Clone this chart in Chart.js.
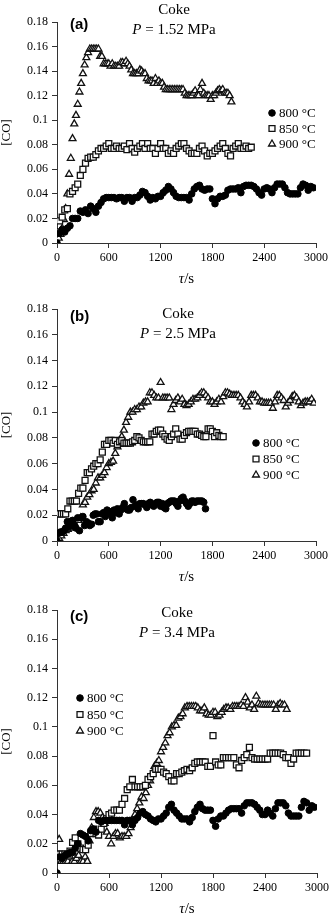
<!DOCTYPE html>
<html>
<head>
<meta charset="utf-8">
<script src="https://cdn.jsdelivr.net/npm/chart.js@4.4.1/dist/chart.umd.min.js"></script>
<style>
  html, body { margin: 0; padding: 0; background: #fff; }
  body { width: 332px; height: 919px; position: relative; overflow: hidden; }
  canvas { position: absolute; left: 0; }
</style>
</head>
<body>
<canvas id="panelA" style="top:0px" width="332" height="289"></canvas>
<canvas id="panelB" style="top:289px" width="332" height="298"></canvas>
<canvas id="panelC" style="top:587px" width="332" height="332"></canvas>
<script>
// legend labels and axis ticks
const temps = ['800 °C', '850 °C', '900 °C'];
const xTickValues = [0, 600, 1200, 1800, 2400, 3000];
const yTickValues = [0, 0.02, 0.04, 0.06, 0.08, 0.1, 0.12, 0.14, 0.16, 0.18];
const pressures = ['1.52', '2.5', '3.4'];
const panelLetters = ['(a)', '(b)', '(c)'];

// sampling interval (s) of each logged series
const stepA800 = 30, stepA850 = 30, stepA900 = 20;
const stepB800 = 20, stepB850 = 25, stepB900 = 25;
const stepC800 = 30, stepC850 = 30, stepC900 = 25;

// (a) P = 1.52 MPa
const coA800 = [0, 0.008, 0.011, 0.009, 0.012, 0.014, 0.02, 0.02, 0.02, 0.026,
  0.025, 0.027, 0.024, 0.03, 0.028, 0.025, 0.03, 0.033, 0.036, 0.037,
  0.037, 0.037, 0.037, 0.036, 0.037, 0.037, 0.034, 0.037, 0.037, 0.034,
  0.037, 0.037, 0.039, 0.042, 0.041, 0.038, 0.035, 0.037, 0.036, 0.038,
  0.038, 0.041, 0.043, 0.046, 0.044, 0.041, 0.038, 0.037, 0.037, 0.037,
  0.037, 0.035, 0.04, 0.044, 0.046, 0.047, 0.044, 0.043, 0.044, 0.044,
  0.036, 0.032, 0.036, 0.038, 0.038, 0.039, 0.043, 0.044, 0.044, 0.044,
  0.045, 0.041, 0.046, 0.047, 0.047, 0.047, 0.046, 0.044, 0.041, 0.039,
  0.044, 0.045, 0.044, 0.041, 0.045, 0.048, 0.048, 0.048, 0.045, 0.041,
  0.040, 0.040, 0.040, 0.040, 0.045, 0.048, 0.047, 0.043, 0.046, 0.045];
const coA850 = [0.009, 0.018, 0.021, 0.027, 0.028, 0.04, 0.042, 0.045, 0.048, 0.055,
  0.06, 0.065, 0.069, 0.070, 0.070, 0.072, 0.075, 0.077, 0.077, 0.079,
  0.081, 0.077, 0.077, 0.079, 0.077, 0.077, 0.079, 0.076, 0.081, 0.077,
  0.074, 0.077, 0.079, 0.081, 0.077, 0.081, 0.077, 0.077, 0.073, 0.077,
  0.081, 0.077, 0.077, 0.073, 0.075, 0.073, 0.077, 0.079, 0.081, 0.081,
  0.077, 0.075, 0.073, 0.073, 0.073, 0.077, 0.079, 0.075, 0.071, 0.073,
  0.073, 0.075, 0.077, 0.079, 0.081, 0.077, 0.073, 0.071, 0.077, 0.079,
  0.081, 0.077, 0.077, 0.079, 0.077, 0.078];
const coA900 = [0, 0.004, 0.007, 0.012, 0.019, 0.028, 0.04, 0.056, 0.069, 0.085,
  0.097, 0.104, 0.113, 0.123, 0.13, 0.138, 0.145, 0.151, 0.155, 0.158,
  0.158, 0.158, 0.158, 0.158, 0.158, 0.152, 0.152, 0.146, 0.146, 0.146,
  0.146, 0.144, 0.146, 0.144, 0.144, 0.144, 0.144, 0.147, 0.147, 0.146,
  0.148, 0.146, 0.144, 0.141, 0.138, 0.138, 0.138, 0.138, 0.141, 0.14,
  0.138, 0.138, 0.134, 0.132, 0.132, 0.132, 0.13, 0.134, 0.13, 0.132,
  0.13, 0.13, 0.127, 0.125, 0.125, 0.125, 0.125, 0.125, 0.125, 0.125,
  0.125, 0.125, 0.125, 0.125, 0.122, 0.12, 0.12, 0.12, 0.12, 0.122,
  0.124, 0.12, 0.12, 0.125, 0.13, 0.122, 0.12, 0.12, 0.12, 0.117,
  0.12, 0.12, 0.122, 0.124, 0.125, 0.124, 0.125, 0.122, 0.122, 0.122,
  0.12, 0.115];

// (b) P = 2.5 MPa
const coB800 = [0, 0.006, 0.007, 0.007, 0.008, 0.01, 0.015, 0.011, 0.015, 0.016,
  0.012, 0.01, 0.018, 0.008, 0.018, 0.019, 0.012, 0.015, 0.014, 0.012,
  0.013, 0.02, 0.021, 0.021, 0.015, 0.015, 0.021, 0.022, 0.019, 0.024,
  0.023, 0.021, 0.018, 0.024, 0.022, 0.025, 0.021, 0.024, 0.026, 0.029,
  0.025, 0.024, 0.024, 0.026, 0.032, 0.027, 0.028, 0.025, 0.029, 0.029,
  0.029, 0.028, 0.026, 0.029, 0.03, 0.028, 0.027, 0.029, 0.03, 0.03,
  0.027, 0.029, 0.026, 0.025, 0.029, 0.03, 0.031, 0.031, 0.031, 0.029,
  0.027, 0.031, 0.033, 0.034, 0.031, 0.029, 0.027, 0.029, 0.031, 0.031,
  0.03, 0.031, 0.031, 0.031, 0.031, 0.03, 0.025];
const coB850 = [0.021, 0.021, 0.021, 0.021, 0.021, 0.025, 0.031, 0.031, 0.031, 0.031,
  0.037, 0.041, 0.041, 0.047, 0.053, 0.053, 0.056, 0.058, 0.06, 0.06,
  0.063, 0.069, 0.075, 0.075, 0.078, 0.078, 0.076, 0.078, 0.075, 0.077,
  0.078, 0.076, 0.076, 0.076, 0.076, 0.077, 0.078, 0.081, 0.08, 0.078,
  0.077, 0.077, 0.077, 0.077, 0.083, 0.083, 0.085, 0.086, 0.086, 0.083,
  0.081, 0.079, 0.078, 0.081, 0.083, 0.087, 0.083, 0.079, 0.079, 0.082,
  0.084, 0.085, 0.085, 0.085, 0.085, 0.083, 0.083, 0.082, 0.081, 0.081,
  0.087, 0.087, 0.085, 0.081, 0.084, 0.082, 0.081, 0.081];
const coB900 = [0, 0.002, 0.004, 0.006, 0.008, 0.009, 0.01, 0.012, 0.014, 0.016,
  0.016, 0.018, 0.028, 0.03, 0.034, 0.036, 0.039, 0.04, 0.045, 0.049,
  0.049, 0.051, 0.053, 0.057, 0.06, 0.061, 0.062, 0.068, 0.073, 0.075,
  0.081, 0.086, 0.092, 0.096, 0.1, 0.1, 0.102, 0.102, 0.104, 0.104,
  0.107, 0.108, 0.108, 0.115, 0.115, 0.113, 0.111, 0.111, 0.123, 0.111,
  0.111, 0.111, 0.111, 0.102, 0.106, 0.109, 0.111, 0.108, 0.11, 0.106,
  0.105, 0.106, 0.108, 0.11, 0.11, 0.111, 0.113, 0.115, 0.115, 0.113,
  0.111, 0.108, 0.108, 0.106, 0.108, 0.11, 0.108, 0.112, 0.115, 0.115,
  0.114, 0.113, 0.113, 0.113, 0.113, 0.111, 0.108, 0.106, 0.104, 0.108,
  0.113, 0.113, 0.113, 0.111, 0.108, 0.108, 0.107, 0.107, 0.107, 0.107,
  0.103, 0.108, 0.113, 0.113, 0.111, 0.109, 0.104, 0.107, 0.109, 0.112,
  0.113, 0.111, 0.108, 0.105, 0.107, 0.108, 0.108, 0.108, 0.11, 0.107];

// (c) P = 3.4 MPa
const coC800 = [0, 0.011, 0.01, 0.012, 0.013, 0.014, 0.014, 0.017, 0.02, 0.027,
  0.026, 0.025, 0.022, 0.029, 0.03, 0.028, 0.036, 0.035, 0.036, 0.036,
  0.036, 0.036, 0.036, 0.036, 0.036, 0.036, 0.033, 0.036, 0.036, 0.033,
  0.036, 0.038, 0.041, 0.042, 0.04, 0.039, 0.037, 0.036, 0.035, 0.037,
  0.037, 0.039, 0.041, 0.045, 0.047, 0.043, 0.041, 0.039, 0.037, 0.037,
  0.037, 0.035, 0.038, 0.042, 0.045, 0.047, 0.044, 0.043, 0.043, 0.043,
  0.036, 0.032, 0.037, 0.039, 0.039, 0.041, 0.043, 0.044, 0.044, 0.044,
  0.044, 0.041, 0.046, 0.048, 0.048, 0.048, 0.047, 0.045, 0.043, 0.04,
  0.04, 0.043, 0.041, 0.039, 0.044, 0.048, 0.048, 0.048, 0.046, 0.041,
  0.039, 0.039, 0.039, 0.039, 0.045, 0.049, 0.048, 0.043, 0.046, 0.045];
const coC850 = [0.013, 0.013, 0.013, 0.013, 0.013, 0.015, 0.021, 0.024, 0.02, 0.017,
  0.016, 0.016, 0.019, 0.027, 0.03, 0.027, 0.026, 0.03, 0.034, 0.037,
  0.04, 0.041, 0.043, 0.043, 0.043, 0.047, 0.051, 0.057, 0.059, 0.064,
  0.059, 0.059, 0.059, 0.059, 0.06, 0.064, 0.066, 0.068, 0.071, 0.071,
  0.071, 0.069, 0.068, 0.066, 0.063, 0.063, 0.068, 0.068, 0.069, 0.07,
  0.071, 0.07, 0.072, 0.075, 0.076, 0.076, 0.076, 0.076, 0.073, 0.073,
  0.094, 0.076, 0.074, 0.074, 0.079, 0.079, 0.079, 0.079, 0.079, 0.074,
  0.072, 0.077, 0.079, 0.081, 0.086, 0.079, 0.078, 0.078, 0.078, 0.078,
  0.078, 0.078, 0.082, 0.082, 0.082, 0.082, 0.082, 0.081, 0.079, 0.079,
  0.075, 0.078, 0.082, 0.082, 0.082, 0.082, 0.082];
const coC900 = [0, 0.023, 0.008, 0.008, 0.008, 0.008, 0.011, 0.008, 0.008, 0.01,
  0.012, 0.008, 0.008, 0.011, 0.008, 0.022, 0.031, 0.038, 0.042, 0.042,
  0.041, 0.038, 0.034, 0.028, 0.025, 0.02, 0.025, 0.027, 0.027, 0.024,
  0.025, 0.025, 0.025, 0.027, 0.031, 0.036, 0.04, 0.044, 0.048, 0.052,
  0.051, 0.055, 0.06, 0.063, 0.068, 0.073, 0.075, 0.077, 0.083, 0.086,
  0.089, 0.094, 0.096, 0.1, 0.101, 0.101, 0.106, 0.107, 0.109, 0.113,
  0.114, 0.114, 0.114, 0.114, 0.114, 0.113, 0.111, 0.111, 0.113, 0.109,
  0.108, 0.108, 0.11, 0.11, 0.107, 0.108, 0.11, 0.112, 0.113, 0.113,
  0.112, 0.114, 0.114, 0.114, 0.114, 0.115, 0.114, 0.12, 0.117, 0.113,
  0.115, 0.112, 0.121, 0.116, 0.115, 0.115, 0.115, 0.115, 0.115, 0.115,
  0.115, 0.112, 0.115, 0.116, 0.115, 0.115, 0.112];

function toPoints(values, step) {
  return values.map((v, i) => ({ x: i * step, y: v }));
}

const markerStyles = [
  { pointStyle: 'circle', pointRadius: 3.3, backgroundColor: '#000', borderColor: '#000', borderWidth: 1 },
  { pointStyle: 'rect', pointRadius: 4.2, backgroundColor: '#fff', borderColor: '#111', borderWidth: 1.3 },
  { pointStyle: 'triangle', pointRadius: 4, backgroundColor: '#fff', borderColor: '#111', borderWidth: 1.3 }
];

const serif = '"Liberation Serif", "Times New Roman", serif';

function drawMarker(ctx, style, x, y) {
  const r = style.pointRadius;
  ctx.beginPath();
  if (style.pointStyle === 'circle') {
    ctx.arc(x, y, r, 0, Math.PI * 2);
  } else if (style.pointStyle === 'rect') {
    const s = Math.SQRT1_2 * r;
    ctx.rect(x - s, y - s, 2 * s, 2 * s);
  } else {
    let rad = 0;
    ctx.moveTo(x + Math.sin(rad) * r, y - Math.cos(rad) * r);
    rad += Math.PI * 2 / 3;
    ctx.lineTo(x + Math.sin(rad) * r, y - Math.cos(rad) * r);
    rad += Math.PI * 2 / 3;
    ctx.lineTo(x + Math.sin(rad) * r, y - Math.cos(rad) * r);
    ctx.closePath();
  }
  ctx.fillStyle = style.backgroundColor;
  ctx.fill();
  ctx.lineWidth = style.borderWidth;
  ctx.strokeStyle = style.borderColor;
  ctx.stroke();
}

// panel letter, title, legend and x-axis label
const panelText = {
  id: 'panelText',
  afterDraw(chart, args, o) {
    const ctx = chart.ctx;
    const a = chart.chartArea;
    ctx.save();
    ctx.fillStyle = '#000';
    ctx.textBaseline = 'middle';

    ctx.font = 'bold 15px "Liberation Sans", Arial, sans-serif';
    ctx.textAlign = 'left';
    ctx.fillText(o.letter, 70, a.top + o.letterDy);

    ctx.font = '15px ' + serif;
    ctx.textAlign = 'center';
    ctx.fillText('Coke', o.titleX, a.top + o.titleDy);

    // "P = x MPa" with italic P
    const rest = ' = ' + o.pressure + ' MPa';
    ctx.font = 'italic 15px ' + serif;
    const wP = ctx.measureText('P').width;
    ctx.font = '15px ' + serif;
    const wR = ctx.measureText(rest).width;
    let x0 = o.titleX - (wP + wR) / 2;
    ctx.textAlign = 'left';
    ctx.font = 'italic 15px ' + serif;
    ctx.fillText('P', x0, a.top + o.titleDy + 20);
    ctx.font = '15px ' + serif;
    ctx.fillText(rest, x0 + wP, a.top + o.titleDy + 20);

    // x-axis label "τ/s"
    const cx = (a.left + a.right) / 2;
    ctx.font = 'italic 15px ' + serif;
    const wT = ctx.measureText('\u03c4').width;
    ctx.font = '15px ' + serif;
    const wS = ctx.measureText('/s').width;
    x0 = cx - (wT + wS) / 2;
    ctx.font = 'italic 15px ' + serif;
    ctx.fillText('\u03c4', x0, a.bottom + 36);
    ctx.font = '15px ' + serif;
    ctx.fillText('/s', x0 + wT, a.bottom + 36);

    // legend
    ctx.font = '13px ' + serif;
    chart.data.datasets.forEach((ds, i) => {
      const y = o.legendY + i * o.legendGap;
      drawMarker(ctx, markerStyles[i], o.legendX, y);
      ctx.fillStyle = '#000';
      ctx.textAlign = 'left';
      ctx.fillText(ds.label, o.legendX + 7, y + 1);
    });
    ctx.restore();
  }
};

function makePanel(id, series, opts) {
  const canvas = document.getElementById(id);
  const top = opts.top;
  const xHeight = canvas.height - opts.bottom;
  new Chart(canvas, {
    type: 'scatter',
    data: {
      datasets: series.map((pts, i) => Object.assign({ label: temps[i], data: pts }, markerStyles[i]))
    },
    options: {
      responsive: false,
      animation: false,
      devicePixelRatio: 1,
      layout: { padding: { left: 0, right: opts.padRight, top: top, bottom: 0 } },
      plugins: {
        legend: { display: false },
        tooltip: { enabled: false },
        panelText: opts.text
      },
      scales: {
        x: {
          type: 'linear',
          min: 0, max: 3000,
          afterFit: (s) => { s.height = xHeight; },
          afterBuildTicks: (s) => { s.ticks = xTickValues.map(v => ({ value: v })); },
          border: { display: true, color: '#333', width: 1 },
          grid: { drawOnChartArea: false, drawTicks: true, tickLength: 5, color: '#333' },
          ticks: {
            color: '#000', padding: 3, maxRotation: 0,
            font: { family: serif, size: 12 },
            callback: (v) => String(v)
          }
        },
        y: {
          type: 'linear',
          min: 0, max: 0.18,
          afterFit: (s) => { s.width = 57; },
          afterBuildTicks: (s) => { s.ticks = yTickValues.map(v => ({ value: v })); },
          border: { display: true, color: '#333', width: 1 },
          grid: { drawOnChartArea: false, drawTicks: true, tickLength: 5, color: '#333' },
          title: {
            display: true, text: '[CO]', color: '#000',
            padding: 0, font: { family: serif, size: 13, lineHeight: 1 }
          },
          ticks: {
            color: '#000', padding: 4,
            font: { family: serif, size: 12 },
            callback: (v) => String(+v.toFixed(2))
          }
        }
      }
    },
    plugins: [panelText]
  });
}

makePanel('panelA', [toPoints(coA800, stepA800), toPoints(coA850, stepA850), toPoints(coA900, stepA900)], {
  top: 22, bottom: 243, padRight: 16,
  text: { letter: panelLetters[0], letterDy: 3, titleX: 174, titleDy: -12, pressure: pressures[0],
          legendX: 272, legendY: 113, legendGap: 15.5 }
});
makePanel('panelB', [toPoints(coB800, stepB800), toPoints(coB850, stepB850), toPoints(coB900, stepB900)], {
  top: 20, bottom: 252, padRight: 16,
  text: { letter: panelLetters[1], letterDy: 8, titleX: 178, titleDy: 5, pressure: pressures[1],
          legendX: 256, legendY: 154, legendGap: 16 }
});
makePanel('panelC', [toPoints(coC800, stepC800), toPoints(coC850, stepC850), toPoints(coC900, stepC900)], {
  top: 23, bottom: 286, padRight: 14,
  text: { letter: panelLetters[2], letterDy: 7, titleX: 177, titleDy: 3, pressure: pressures[2],
          legendX: 80, legendY: 111, legendGap: 16.5 }
});
</script>
</body>
</html>
